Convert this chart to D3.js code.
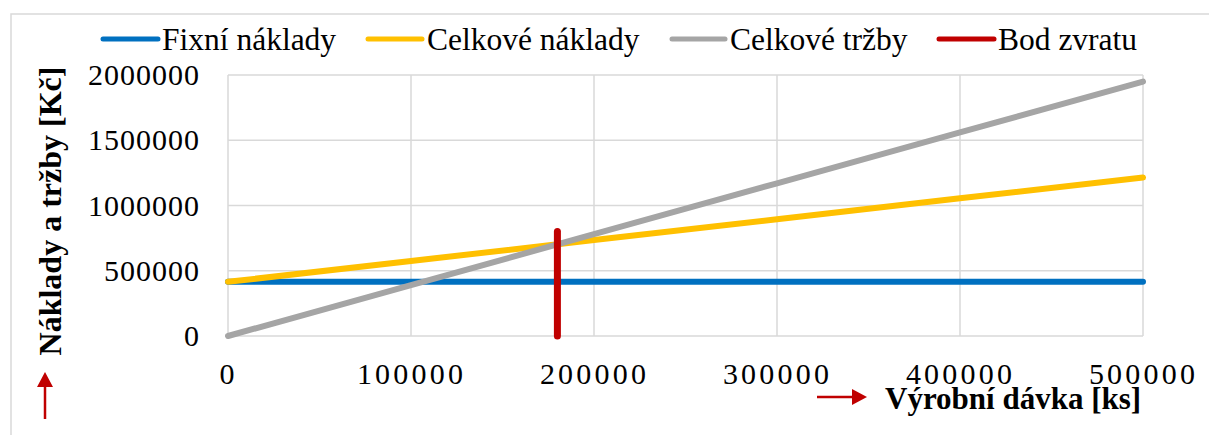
<!DOCTYPE html>
<html>
<head>
<meta charset="utf-8">
<script src="https://cdn.jsdelivr.net/npm/d3@7"></script>
<style>
  html, body { margin: 0; padding: 0; background: #fff; }
  svg { display: block; font-family: "Liberation Serif", "Times New Roman", serif; }
</style>
</head>
<body>
<svg id="chart" width="1209" height="435"></svg>
<script>
// Production batch sizes [ks]
const batches = [0, 100000, 200000, 300000, 400000, 500000];
// Fixed costs [Kč]
const fixedCosts = [415000, 415000, 415000, 415000, 415000, 415000];
// Total costs = fixed + variable [Kč]
const totalCosts = [415000, 575000, 735000, 895000, 1055000, 1215000];
// Revenue [Kč]
const revenue = [0, 390000, 780000, 1170000, 1560000, 1950000];
// Break-even marker: batch size and the vertical extent
const breakEvenX = [180000, 180000];
const breakEvenY = [0, 800000];

const xTicks = [0, 100000, 200000, 300000, 400000, 500000];
const yTicks = [0, 500000, 1000000, 1500000, 2000000];

const seriesNames = ["Fixní náklady", "Celkové náklady", "Celkové tržby", "Bod zvratu"];
const seriesColors = ["#0070C0", "#FFC000", "#A5A5A5", "#C00000"];

const svg = d3.select("#chart");
const plot = { left: 228, right: 1143, top: 75, bottom: 336 };

const x = d3.scaleLinear().domain([0, 500000]).range([plot.left, plot.right]);
const y = d3.scaleLinear().domain([0, 2000000]).range([plot.bottom, plot.top]);

// Outer chart frame
svg.append("rect")
  .attr("x", 11).attr("y", 14).attr("width", 1220).attr("height", 440)
  .attr("fill", "none").attr("stroke", "#D9D9D9").attr("stroke-width", 1.5);

// Gridlines
const grid = svg.append("g");
grid.selectAll("line.h").data(yTicks).join("line")
  .attr("x1", plot.left).attr("x2", plot.right)
  .attr("y1", d => y(d)).attr("y2", d => y(d))
  .attr("stroke", "#D9D9D9").attr("stroke-width", 1.5);
grid.selectAll("line.v").data(xTicks).join("line")
  .attr("y1", plot.top).attr("y2", plot.bottom)
  .attr("x1", d => x(d)).attr("x2", d => x(d))
  .attr("stroke", "#D9D9D9").attr("stroke-width", 1.5);

// Axes (labels only, no domain or tick marks)
const yAxis = svg.append("g")
  .attr("transform", `translate(${plot.left},0)`)
  .call(d3.axisLeft(y).tickValues(yTicks).tickFormat(d3.format("d")).tickSize(0).tickPadding(28));
yAxis.select(".domain").remove();
yAxis.selectAll("text")
  .attr("font-family", "Liberation Serif, Times New Roman, serif")
  .attr("font-size", 30).attr("fill", "#000")
  .attr("letter-spacing", 1)
  .attr("dy", "0.32em");

const xAxis = svg.append("g")
  .attr("transform", `translate(0,${plot.bottom})`)
  .call(d3.axisBottom(x).tickValues(xTicks).tickFormat(d3.format("d")).tickSize(0).tickPadding(27));
xAxis.select(".domain").remove();
xAxis.selectAll("text")
  .attr("font-family", "Liberation Serif, Times New Roman, serif")
  .attr("font-size", 30).attr("fill", "#000")
  .attr("letter-spacing", 3.2);

// Series lines
const line = d3.line().x(d => x(d[0])).y(d => y(d[1]));
const series = [fixedCosts, totalCosts, revenue];
series.forEach((vals, i) => {
  svg.append("path")
    .datum(batches.map((b, j) => [b, vals[j]]))
    .attr("d", line)
    .attr("fill", "none")
    .attr("stroke", seriesColors[i])
    .attr("stroke-width", 6)
    .attr("stroke-linecap", "round");
});

// Break-even marker
svg.append("path")
  .datum(breakEvenX.map((b, j) => [b, breakEvenY[j]]))
  .attr("d", line)
  .attr("fill", "none")
  .attr("stroke", seriesColors[3])
  .attr("stroke-width", 7)
  .attr("stroke-linecap", "round");

// Legend
const legendItems = [
  { x1: 103, x2: 158, tx: 162 },
  { x1: 368, x2: 422, tx: 427 },
  { x1: 672, x2: 725, tx: 730 },
  { x1: 939, x2: 994, tx: 998 }
];
const legend = svg.append("g");
legendItems.forEach((it, i) => {
  legend.append("line")
    .attr("x1", it.x1).attr("x2", it.x2).attr("y1", 39).attr("y2", 39)
    .attr("stroke", seriesColors[i]).attr("stroke-width", 5).attr("stroke-linecap", "round");
  legend.append("text")
    .attr("x", it.tx).attr("y", 50)
    .attr("font-size", 31.5).attr("fill", "#000")
    .text(seriesNames[i]);
});

// Axis titles
svg.append("text")
  .attr("transform", "translate(61,211) rotate(-90)")
  .attr("text-anchor", "middle")
  .attr("font-size", 32).attr("font-weight", "bold").attr("fill", "#000")
  .text("Náklady a tržby [Kč]");

svg.append("text")
  .attr("x", 885).attr("y", 409)
  .attr("font-size", 31).attr("font-weight", "bold").attr("fill", "#000")
  .text("Výrobní dávka [ks]");

// Direction arrows
const arrowColor = "#C00000";
svg.append("line")
  .attr("x1", 45).attr("x2", 45).attr("y1", 419).attr("y2", 385)
  .attr("stroke", arrowColor).attr("stroke-width", 2.5);
svg.append("path")
  .attr("d", "M45,372 L37,387 L53,387 Z")
  .attr("fill", arrowColor);

svg.append("line")
  .attr("x1", 817).attr("x2", 853).attr("y1", 397).attr("y2", 397)
  .attr("stroke", arrowColor).attr("stroke-width", 2.5);
svg.append("path")
  .attr("d", "M867,397 L852,389 L852,405 Z")
  .attr("fill", arrowColor);
</script>
</body>
</html>
